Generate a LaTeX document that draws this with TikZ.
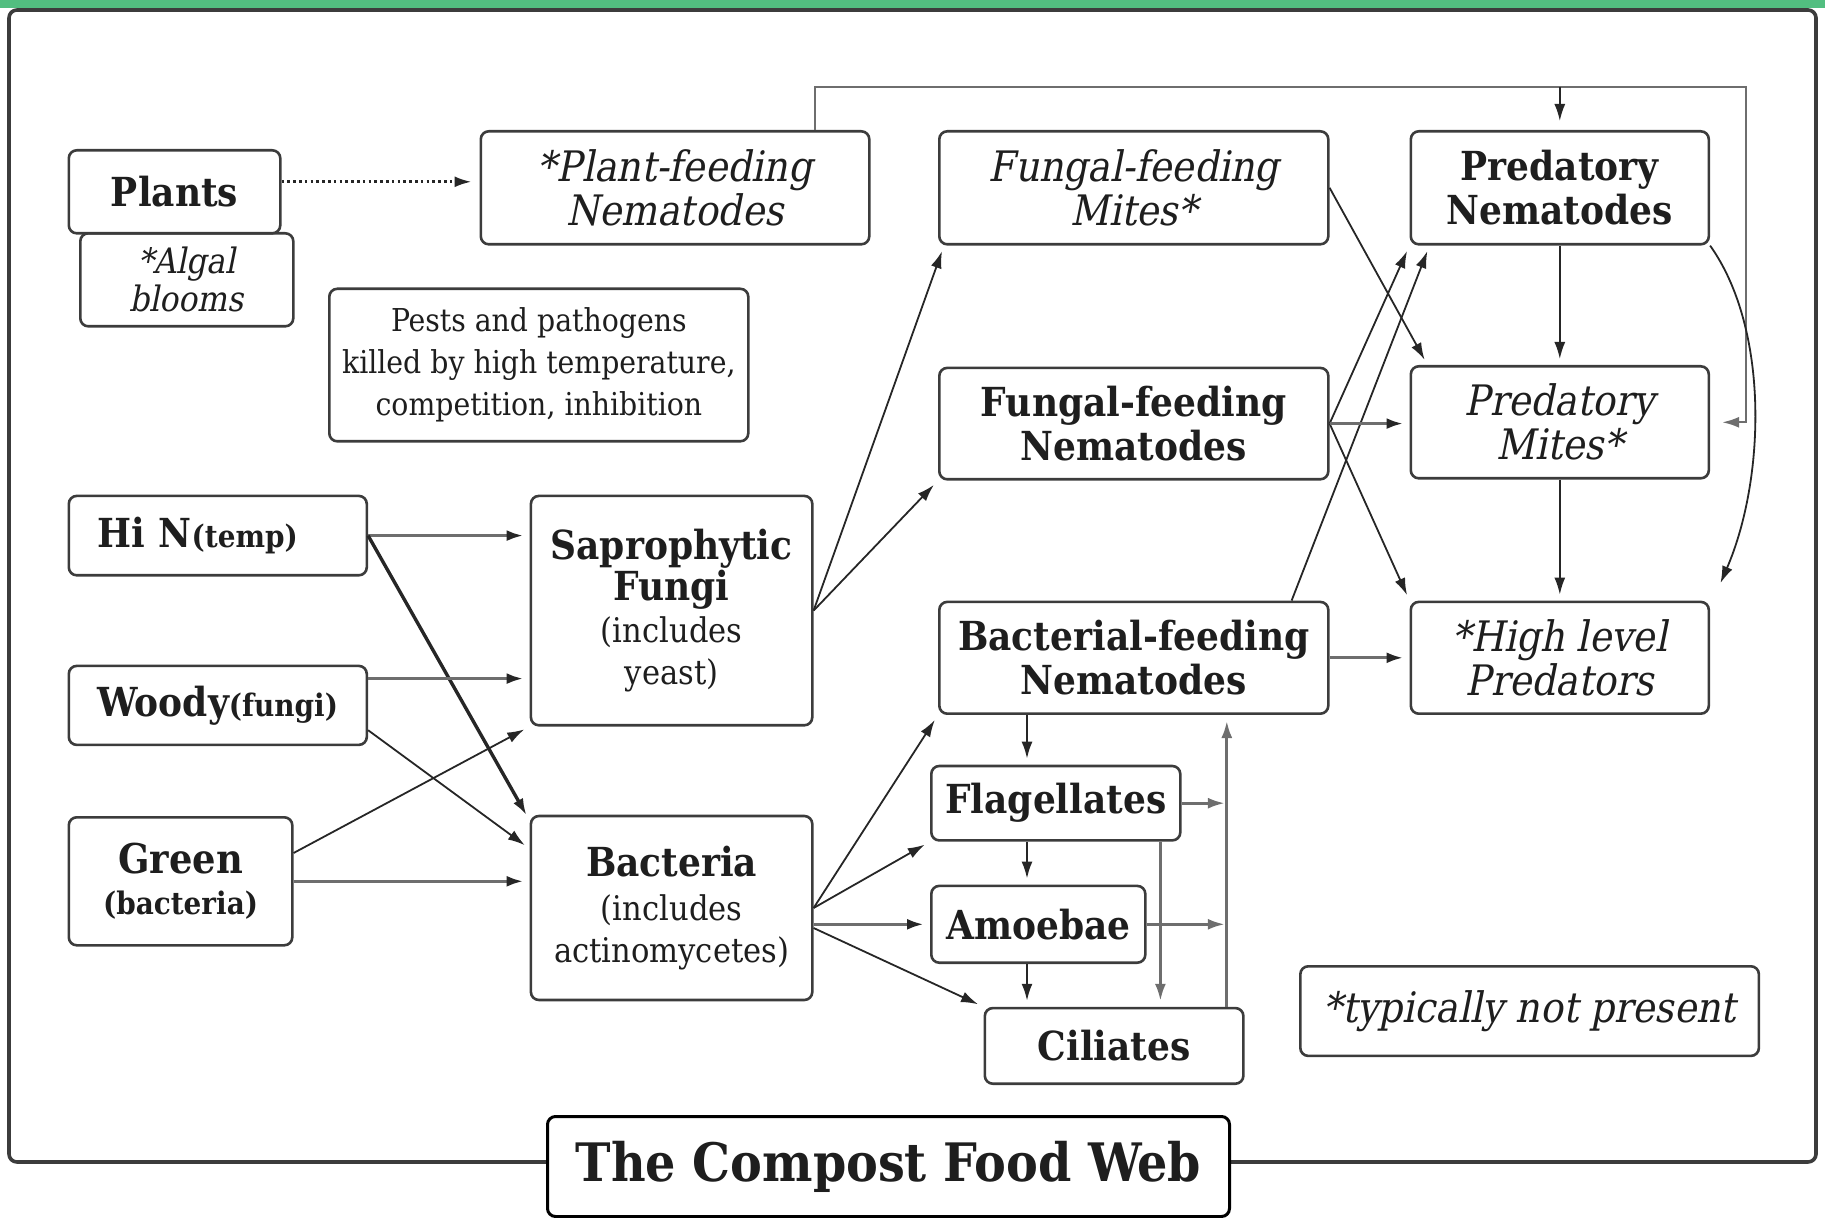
\documentclass[tikz,border=0pt]{standalone}
\usepackage{fontspec}
\IfFontExistsTF{DejaVu Serif Condensed}
  {\setmainfont{DejaVu Serif Condensed}[AutoFakeSlant=0.2]}
  {\setmainfont{DejaVu Serif}[FakeStretch=0.88,AutoFakeSlant=0.2]}
\usetikzlibrary{arrows.meta,calc}
\definecolor{topgreen}{HTML}{52BE80}
\definecolor{ink}{HTML}{1E1E1E}
\definecolor{edge}{HTML}{3C3C3C}
\definecolor{wire}{HTML}{262626}
\definecolor{fat}{HTML}{6E6E6E}
\tikzset{
  box/.style={draw=edge,line width=1.3pt,rounded corners=4pt,fill=white,align=center,text=ink,inner sep=2pt,anchor=north west},
  btxt/.style={font=\fontsize{20}{22}\selectfont\bfseries},
  itxt/.style={font=\fontsize{21}{22}\selectfont\itshape},
  ntxt/.style={font=\fontsize{15.75}{21}\selectfont},
  arr/.style={-{Latex[length=8.5pt,width=5.5pt]},line width=0.9pt,draw=wire,shorten >=3pt},
  thk/.style={-{Latex[length=8.5pt,width=5.5pt,color=wire]},line width=1.7pt,draw=fat,shorten >=3pt},
  lane/.style={arr,line width=1.4pt,draw=fat},
  frame/.style={draw=edge,line width=1.8pt,rounded corners=4pt},
}
\newcommand{\subtxt}[1]{{\mdseries\fontsize{17}{20}\selectfont #1}}
\newcommand{\smallbf}[1]{{\fontsize{15.5}{18}\selectfont #1}}

\begin{document}
\begin{tikzpicture}[x=0.5pt,y=-0.5pt]
  \useasboundingbox (0,0) rectangle (1825,1218);
  \fill[topgreen] (0,0) rectangle (1825,8);
  \draw[frame] (9,10) rectangle (1816,1162);

  % food sources
  \node[box,font=\fontsize{17.5}{19}\selectfont\itshape,minimum width=106.5pt,minimum height=46.5pt] (algal) at (79,232) {*Algal\\blooms};
  \node[box,btxt,minimum width=105.75pt,minimum height=41.5pt] (plants) at (67.5,149) {Plants};
  \node[box,btxt,minimum width=149pt,minimum height=39.7pt,text width=120pt,align=left,inner xsep=14.5pt] (hin) at (67.5,494.6) {Hi N\smallbf{(temp)}};
  \node[box,btxt,minimum width=149pt,minimum height=39.5pt] (woody) at (67.5,664.6) {Woody\smallbf{(fungi)}};
  \node[box,font=\fontsize{20.5}{20.5}\selectfont\bfseries,minimum width=111.75pt,minimum height=64pt] (green) at (67.5,816) {Green\\\smallbf{(bacteria)}};

  % decomposers
  \node[box,font=\fontsize{20}{18}\selectfont\bfseries,minimum width=140.7pt,minimum height=114.7pt] (fungi) at (529.6,494.6) {Saprophytic\\Fungi\\[3pt]\subtxt{(includes}\\[3pt]\subtxt{yeast)}};
  \node[box,btxt,minimum width=140.7pt,minimum height=92pt] (bact) at (529.6,814.7) {Bacteria\\\subtxt{(includes}\\[-1pt]\subtxt{actinomycetes)}};

  % grazers and predators
  \node[box,itxt,minimum width=194.25pt,minimum height=56.5pt] (pfn) at (479.5,130) {*Plant-feeding\\Nematodes};
  \node[box,ntxt,minimum width=209.5pt,minimum height=76.25pt] (pests) at (328,287.5) {Pests and pathogens\\killed by high temperature,\\competition, inhibition};
  \node[box,itxt,minimum width=194.5pt,minimum height=56.5pt] (ffm) at (938,130) {Fungal-feeding\\Mites*};
  \node[box,btxt,minimum width=194.5pt,minimum height=55.7pt] (ffn) at (938,366.6) {Fungal-feeding\\Nematodes};
  \node[box,btxt,minimum width=194.5pt,minimum height=55.9pt] (bfn) at (938,600.6) {Bacterial-feeding\\Nematodes};
  \node[box,btxt,minimum width=149pt,minimum height=56.5pt] (pn) at (1409.5,130) {Predatory\\Nematodes};
  \node[box,itxt,minimum width=149pt,minimum height=56pt] (pm) at (1409.5,365) {Predatory\\Mites*};
  \node[box,itxt,minimum width=149pt,minimum height=55.9pt] (hlp) at (1409.5,600.6) {*High level\\Predators};

  % protozoa
  \node[box,btxt,minimum width=124.5pt,minimum height=37.2pt] (flag) at (930,764.7) {Flagellates};
  \node[box,btxt,minimum width=107pt,minimum height=38.4pt] (amoeb) at (930,884.6) {Amoebae};
  \node[box,btxt,minimum width=129.3pt,minimum height=37.8pt] (cil) at (983.5,1006.8) {Ciliates};

  \node[box,font=\fontsize{21}{22}\selectfont\itshape,minimum width=229.3pt,minimum height=44.8pt] (note) at (1299,965) {*typically not present};
  \node[box,draw=black,line width=1.5pt,font=\fontsize{26.5}{30}\selectfont\bfseries,minimum width=341pt,minimum height=50pt] (title) at (546,1115) {The Compost Food Web};

  % connector ends off the anchors
  \coordinate (pmin) at ([xshift=9pt]pm.north west);
  \coordinate (pnin) at ([xshift=10pt]pn.south west);
  \coordinate (bfnup) at ([xshift=-19pt]bfn.north east);
  \coordinate (ffmin) at ([xshift=3pt]ffm.south west);
  \coordinate (bactlow) at ([yshift=-10pt]bact.east);
  \coordinate (woodylow) at ([yshift=8pt]woody.south east);
  \coordinate (bactin) at ([yshift=-17pt]bact.north west);
  \coordinate (greenup) at ([yshift=-18.5pt]green.north east);
  \coordinate (woodyup) at ([yshift=-7pt]woody.north east);
  \coordinate (bactnw) at ([yshift=-3pt]bact.north west);
  \coordinate (plantsout) at ([yshift=5pt]plants.east);
  \coordinate (pfnup) at ([xshift=-28pt]pfn.north east);
  \coordinate (hlpin) at ([xshift=4pt,yshift=6pt]hlp.north east);

  % connectors
  \draw[arr,line width=1.3pt,dash pattern=on 1.3pt off 1.6pt,shorten >=4pt] (plantsout) -- (plantsout -| pfn.west);
  \coordinate (loopR) at (1746,87);
  \draw[arr,line width=1.1pt,draw=fat,shorten >=6pt] (pfnup) |- (loopR) |- (pm.east);
  \draw[arr,shorten >=4.5pt] (pn.north |- loopR) -- (pn.north);
  \draw[arr] (pn.south east) .. controls (1770,330) and (1765,480) .. (hlpin);

  \foreach \a/\b in {pn/pm, pm/hlp, ffm.east/pmin, ffn.east/pn.south west,
      ffn.east/hlp.north west, bfnup/pnin, fungi.east/ffmin, fungi.east/ffn.south west,
      bact.east/bfn.south west, bact.east/flag.south west, bactlow/cil.north west,
      woodylow/bactin, greenup/fungi.south west}
    \draw[arr] (\a) -- (\b);

  \draw[thk] (hin.east) -- (hin.east -| fungi.west);
  \draw[thk,draw=wire] (hin.east) -- (bactnw);
  \draw[thk] (woodyup) -- (woodyup -| fungi.west);
  \draw[thk] (green.east) -- (green.east -| bact.west);
  \draw[thk] (amoeb.west -| bact.east) -- (amoeb.west);
  \draw[thk] (ffn.east) -- (ffn.east -| pm.west);
  \draw[thk] (bfn.east) -- (bfn.east -| hlp.west);

  % protozoa lanes
  \coordinate (laneA) at (1027,0);
  \coordinate (laneB) at (1160.4,0);
  \coordinate (laneC) at (1226.8,0);
  \draw[arr,line width=1.1pt] (bfn.south -| laneA) -- (flag.north -| laneA);
  \draw[arr,line width=1.1pt] (flag.south -| laneA) -- (amoeb.north -| laneA);
  \draw[arr,line width=1.1pt] (amoeb.south -| laneA) -- (cil.north -| laneA);
  \draw[lane] (flag.south -| laneB) -- (cil.north -| laneB);
  \draw[lane] (cil.north -| laneC) -- (bfn.south -| laneC);
  \draw[lane,shorten >=1pt] (flag.east) -- (flag.east -| laneC);
  \draw[lane,shorten >=1pt] (amoeb.east) -- (amoeb.east -| laneC);
\end{tikzpicture}
\end{document}
